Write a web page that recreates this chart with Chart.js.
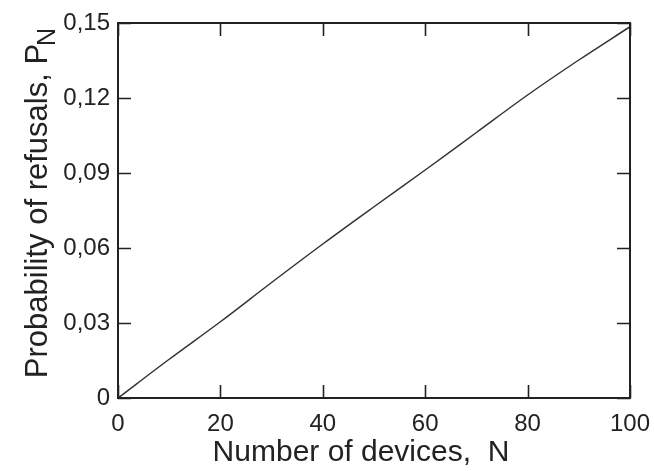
<!DOCTYPE html>
<html>
<head>
<meta charset="utf-8">
<script src="https://cdn.jsdelivr.net/npm/chart.js@4/dist/chart.umd.min.js"></script>
<style>
html,body{margin:0;padding:0;background:#fff;}
#wrap{width:654px;height:471px;position:relative;}
</style>
</head>
<body>
<div id="wrap"><canvas id="c" width="654" height="471"></canvas></div>
<script>
// Data
const devices = [0, 10, 20, 30, 40, 50, 60, 70, 80, 90, 100];
const refusals = [0, 0.0155, 0.0305, 0.0462, 0.0616, 0.0765, 0.0912, 0.1062, 0.1212, 0.1352, 0.1485];
const xTickValues = [0, 20, 40, 60, 80, 100];
const xTickLabels = ['0', '20', '40', '60', '80', '100'];
const yTickValues = [0, 0.03, 0.06, 0.09, 0.12, 0.15];
const yTickLabels = ['0', '0,03', '0,06', '0,09', '0,12', '0,15'];
const xTitle = 'Number of devices,  N';
const yTitleMain = 'Probability of refusals, P';
const yTitleSub = 'N';

const FONT = '"Liberation Sans", Arial, sans-serif';
const INK = '#222';

const framePlugin = {
  id: 'frame',
  afterDatasetsDraw(chart) {
    const {ctx, chartArea: a, scales: {x, y}} = chart;
    ctx.save();
    ctx.strokeStyle = INK;
    ctx.lineWidth = 2;
    ctx.strokeRect(a.left, a.top, a.right - a.left, a.bottom - a.top);
    const L = 13;
    ctx.lineWidth = 1.6;
    ctx.beginPath();
    xTickValues.forEach(v => {
      const px = Math.round(x.getPixelForValue(v)) + 0.5;
      ctx.moveTo(px, a.bottom); ctx.lineTo(px, a.bottom - L);
      ctx.moveTo(px, a.top); ctx.lineTo(px, a.top + L);
    });
    yTickValues.forEach(v => {
      const py = Math.round(y.getPixelForValue(v)) + 0.5;
      ctx.moveTo(a.left, py); ctx.lineTo(a.left + L, py);
      ctx.moveTo(a.right, py); ctx.lineTo(a.right - L, py);
    });
    ctx.stroke();
    ctx.restore();
  },
  afterDraw(chart) {
    const {ctx} = chart;
    ctx.save();
    ctx.fillStyle = INK;
    // x-axis title
    ctx.font = '30px ' + FONT;
    ctx.textAlign = 'center';
    ctx.textBaseline = 'middle';
    ctx.fillText(xTitle, 361, 453);
    // y-axis title with subscript
    ctx.translate(38, 202);
    ctx.rotate(-Math.PI / 2);
    ctx.font = '31px ' + FONT;
    const wMain = ctx.measureText(yTitleMain).width;
    ctx.font = '25px ' + FONT;
    const wSub = ctx.measureText(yTitleSub).width;
    const start = -(wMain + wSub) / 2;
    ctx.textAlign = 'left';
    ctx.font = '31px ' + FONT;
    ctx.fillText(yTitleMain, start, 0);
    ctx.font = '25px ' + FONT;
    ctx.fillText(yTitleSub, start + wMain - 2, 10);
    ctx.restore();
  }
};

new Chart(document.getElementById('c'), {
  type: 'line',
  data: {
    datasets: [{
      data: devices.map((d, i) => ({x: d, y: refusals[i]})),
      borderColor: '#333',
      borderWidth: 1.5,
      pointRadius: 0,
      fill: false,
      cubicInterpolationMode: 'monotone'
    }]
  },
  options: {
    responsive: false,
    animation: false,
    events: [],
    layout: {padding: {left: 0, top: 23, right: 24, bottom: 0}},
    plugins: {legend: {display: false}, tooltip: {enabled: false}},
    scales: {
      x: {
        type: 'linear', min: 0, max: 100,
        afterFit(s) { s.height = 73; s.paddingLeft = 0; s.paddingRight = 0; },
        afterBuildTicks(s) { s.ticks = xTickValues.map(v => ({value: v})); },
        grid: {display: false, drawTicks: false},
        border: {display: false},
        ticks: {
          padding: 12,
          color: INK,
          font: {family: FONT, size: 24},
          maxRotation: 0,
          callback: (v) => xTickLabels[xTickValues.indexOf(v)]
        },
        title: {display: false}
      },
      y: {
        type: 'linear', min: 0, max: 0.15,
        afterFit(s) { s.width = 118; s.paddingTop = 0; s.paddingBottom = 0; },
        afterBuildTicks(s) { s.ticks = yTickValues.map(v => ({value: v})); },
        grid: {display: false, drawTicks: false},
        border: {display: false},
        ticks: {
          padding: 8,
          color: INK,
          font: {family: FONT, size: 24},
          callback: (v) => yTickLabels[yTickValues.findIndex(t => Math.abs(t - v) < 1e-9)]
        }
      }
    }
  },
  plugins: [framePlugin]
});
</script>
</body>
</html>
